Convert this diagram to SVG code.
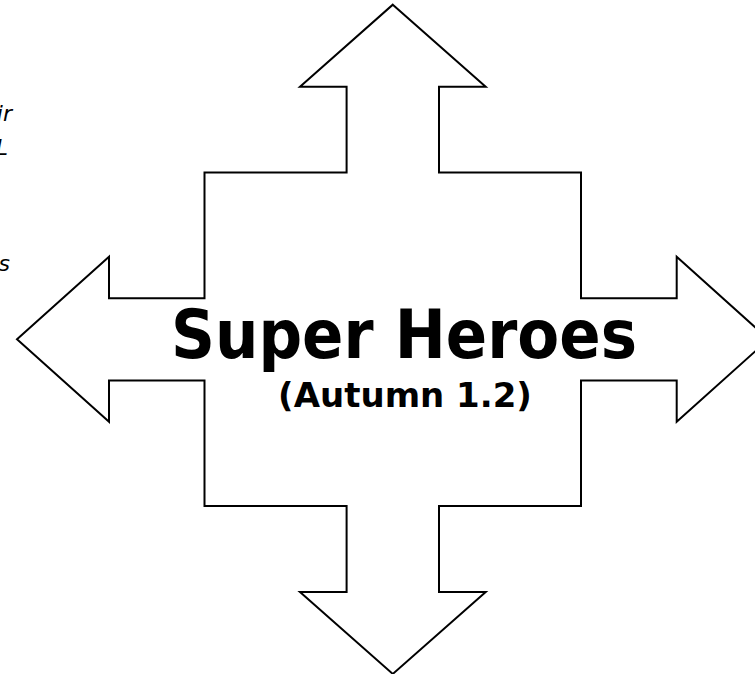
<svg xmlns="http://www.w3.org/2000/svg" width="755" height="674" viewBox="0 0 755 674">
  <style>
    .shape { fill: #ffffff; stroke: #000000; stroke-width: 2; stroke-linejoin: miter; }
    .frag { font-family: "DejaVu Sans", Verdana, sans-serif; font-style: italic; font-size: 22px; fill: #000000; }
    .title { font-family: "DejaVu Sans", Verdana, sans-serif; font-weight: bold; fill: #000000; }
  </style>
  <rect width="755" height="674" fill="#ffffff"/>
  <g id="fragments">
    <text class="frag" x="12" y="121" text-anchor="end">ir</text>
    <text class="frag" x="8" y="155" text-anchor="end">L</text>
    <text class="frag" x="10" y="271" text-anchor="end">s</text>
  </g>
  <g id="cross-arrow">
    <path class="shape" d="M392.8,4.7 L485.7,86.7 L439,86.7 L439,172.5 L581,172.5 L581,298.3 L676.7,298.3 L676.7,256.8 L768.6,339.3 L676.7,421.8 L676.7,380.5 L581,380.5 L581,506 L439,506 L439,592 L485.7,592 L392.8,673.9 L300,592 L346.6,592 L346.6,506 L204.5,506 L204.5,380.5 L109,380.5 L109,421.8 L17,339.3 L109,256.8 L109,298.3 L204.5,298.3 L204.5,172.5 L346.6,172.5 L346.6,86.7 L300,86.7 Z"/>
  </g>
  <g id="label">
    <text class="title" x="171" y="358" font-size="67" textLength="466" lengthAdjust="spacingAndGlyphs">Super Heroes</text>
    <text class="title" x="405" y="407" font-size="34" text-anchor="middle">(Autumn 1.2)</text>
  </g>
</svg>
